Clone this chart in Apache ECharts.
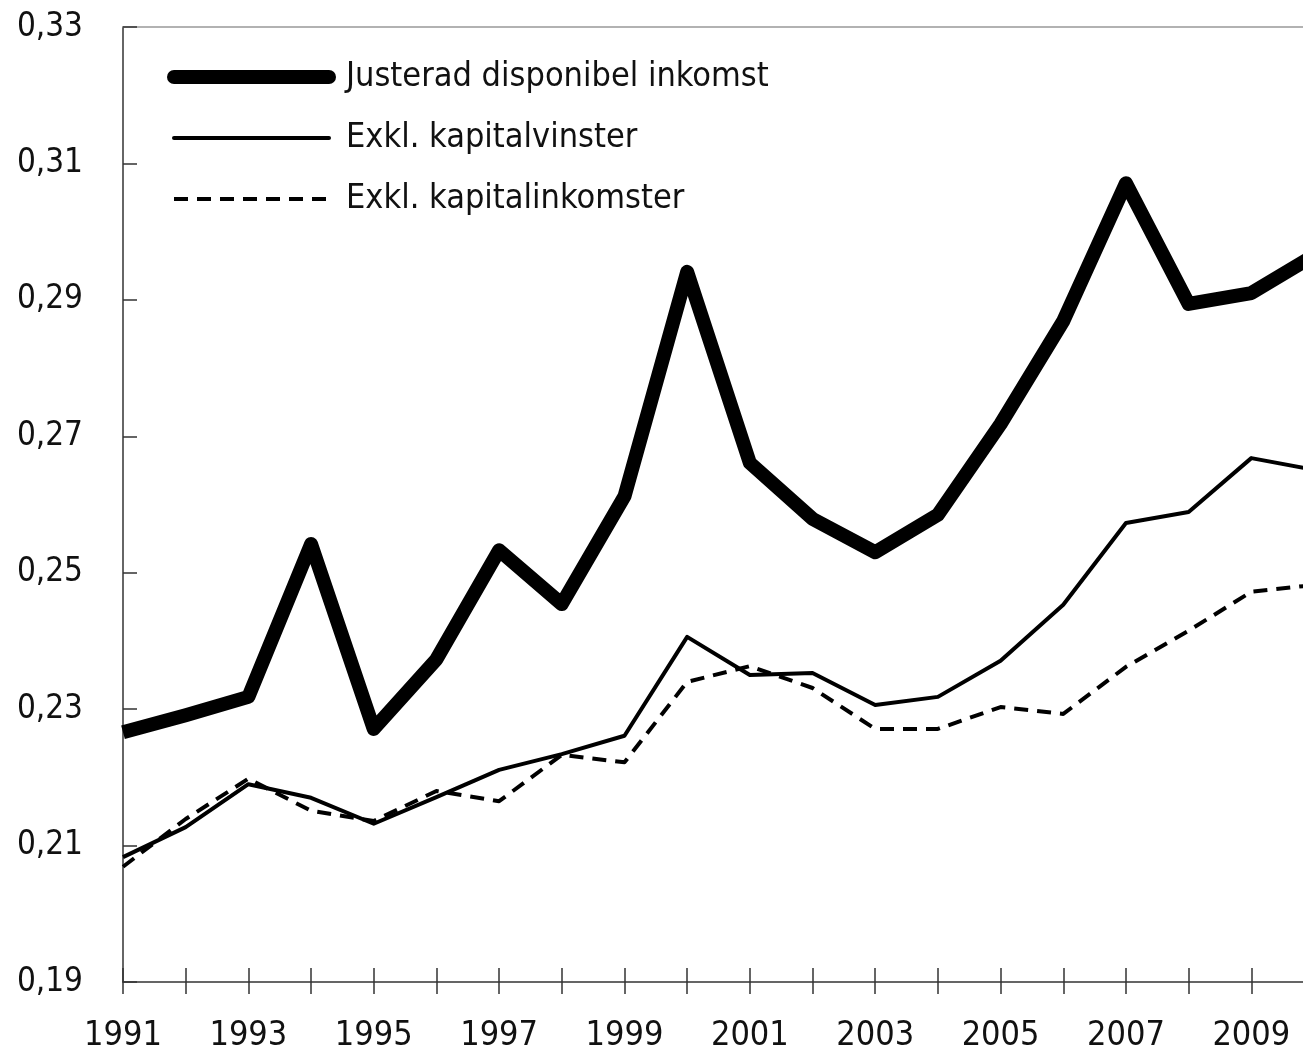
<!DOCTYPE html>
<html>
<head>
<meta charset="utf-8">
<script src="https://cdn.jsdelivr.net/npm/echarts@6.0.0/dist/echarts.min.js"></script>
<style>
  html, body { margin: 0; padding: 0; background: #fff; }
  #chart { width: 1303px; height: 1057px; }
</style>
</head>
<body>
<div id="chart"></div>
<script>
// year, values (Gini-koefficient)
const years = [1991, 1992, 1993, 1994, 1995, 1996, 1997, 1998, 1999, 2000,
               2001, 2002, 2003, 2004, 2005, 2006, 2007, 2008, 2009, 2010];
const justerad = [0.2266, 0.2291, 0.2318, 0.2542, 0.2271, 0.2373, 0.2533, 0.2454, 0.2612, 0.2941,
                  0.2661, 0.2579, 0.2530, 0.2585, 0.2718, 0.2869, 0.3071, 0.2894, 0.2910, 0.2965];
const exklVinster = [0.2083, 0.2127, 0.2190, 0.2170, 0.2132, 0.2171, 0.2211, 0.2234, 0.2261, 0.2406,
                     0.2350, 0.2353, 0.2306, 0.2318, 0.2371, 0.2453, 0.2573, 0.2589, 0.2668, 0.2651];
const exklInkomster = [0.2069, 0.2139, 0.2198, 0.2151, 0.2136, 0.2180, 0.2165, 0.2233, 0.2222, 0.2340,
                       0.2363, 0.2331, 0.2271, 0.2271, 0.2303, 0.2293, 0.2362, 0.2415, 0.2472, 0.2482];
const seriesNames = ['Justerad disponibel inkomst', 'Exkl. kapitalvinster', 'Exkl. kapitalinkomster'];

const FONT = '"Liberation Sans Narrow", "DejaVu Sans Condensed", "Liberation Sans", sans-serif';
const pairs = arr => years.map((y, i) => [y, arr[i]]);

const chart = echarts.init(document.getElementById('chart'), null, { renderer: 'canvas' });

const xBase = { type: 'value', min: 1991, max: 2010, interval: 1, gridIndex: 0, splitLine: { show: false } };
const dash = [14, 9];

const option = {
  backgroundColor: '#fff',
  animation: false,
  textStyle: { fontFamily: FONT },
  grid: { left: 123, right: -11, top: 27, bottom: 75, containLabel: false, outerBoundsMode: 'none' },
  legend: {
    orient: 'vertical',
    left: 167,
    top: 55,
    padding: 0,
    itemWidth: 155,
    itemHeight: 20,
    itemGap: 17,
    data: [
      { name: seriesNames[0], itemStyle: { opacity: 0 }, lineStyle: { width: 14, cap: 'round', color: '#000' } },
      { name: seriesNames[1], itemStyle: { opacity: 0 }, lineStyle: { width: 4, cap: 'round', color: '#000' } },
      { name: seriesNames[2], itemStyle: { opacity: 0 }, lineStyle: { width: 4, type: dash, cap: 'butt', color: '#000' } }
    ],
    textStyle: { fontFamily: FONT, fontSize: 34, color: '#111', lineHeight: 44, padding: [0, 0, 0, 12] }
  },
  xAxis: [
    Object.assign({}, xBase, {
      position: 'bottom',
      axisLine: { show: true, lineStyle: { color: '#333', width: 1.5 } },
      axisTick: { show: true, inside: false, length: 12, lineStyle: { color: '#333', width: 1.5 } },
      axisLabel: {
        show: true, margin: 37, fontFamily: FONT, fontSize: 34, color: '#111',
        formatter: v => (v % 2 === 1 ? String(v) : '')
      }
    }),
    Object.assign({}, xBase, {
      position: 'bottom',
      axisLine: { show: false },
      axisTick: { show: true, inside: true, length: 14, lineStyle: { color: '#333', width: 1.5 } },
      axisLabel: { show: false }
    }),
    Object.assign({}, xBase, {
      position: 'top',
      axisLine: { show: true, lineStyle: { color: '#999', width: 1.5 } },
      axisTick: { show: false },
      axisLabel: { show: false }
    })
  ],
  yAxis: {
    type: 'value',
    min: 0.19,
    max: 0.33,
    interval: 0.02,
    splitLine: { show: false },
    axisLine: { show: true, lineStyle: { color: '#333', width: 1.5 } },
    axisTick: { show: true, inside: true, length: 14, lineStyle: { color: '#333', width: 1.5 } },
    axisLabel: {
      margin: 40, fontFamily: FONT, fontSize: 33, color: '#111',
      formatter: v => v.toFixed(2).replace('.', ',')
    }
  },
  series: [
    {
      name: seriesNames[0], type: 'line', xAxisIndex: 0, data: pairs(justerad),
      symbol: 'none', clip: true, z: 3,
      lineStyle: { color: '#000', width: 14, join: 'round', cap: 'butt' },
      itemStyle: { color: '#000' }
    },
    {
      name: seriesNames[1], type: 'line', xAxisIndex: 0, data: pairs(exklVinster),
      symbol: 'none', clip: true, z: 2,
      lineStyle: { color: '#000', width: 4, join: 'round', cap: 'butt' },
      itemStyle: { color: '#000' }
    },
    {
      name: seriesNames[2], type: 'line', xAxisIndex: 0, data: pairs(exklInkomster),
      symbol: 'none', clip: true, z: 2,
      lineStyle: { color: '#000', width: 4, type: dash, join: 'round', cap: 'butt' },
      itemStyle: { color: '#000' }
    }
  ]
};

chart.setOption(option);
window.addEventListener('resize', () => chart.resize());
</script>
</body>
</html>
